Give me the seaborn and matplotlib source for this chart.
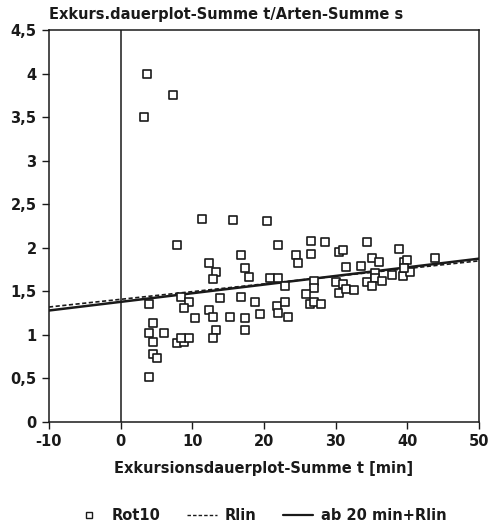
import matplotlib
matplotlib.use("Agg")
import matplotlib.pyplot as plt
from matplotlib.lines import Line2D
from matplotlib.ticker import FuncFormatter
import seaborn as sns
import pandas as pd

sns.set_theme(style="white")
plt.rcParams['font.family'] = ['DejaVu Sans']

# Rot10 scatter data
rot10_t = [3.7, 7.3, 3.3, 11.4, 15.7, 20.4, 7.9, 21.9, 24.4, 24.7, 12.3, 13.3, 12.9,
           16.8, 17.3, 17.9, 20.8, 21.9, 22.9, 3.9, 8.4, 9.5, 8.9, 13.9, 16.8, 18.8,
           21.8, 22.9, 21.9, 23.4, 19.4, 12.3, 12.9, 10.4, 15.2, 17.4, 17.4, 13.3, 12.9,
           4.5, 3.9, 6.0, 4.5, 7.9, 8.9, 9.5, 8.4, 4.5, 5.0, 3.9,
           26.5, 28.5, 34.4, 38.9, 26.5, 30.5, 31.0, 31.4, 33.5, 35.0, 36.0, 39.5, 39.9,
           43.9, 27.0, 27.0, 25.9, 30.0, 31.0, 30.5, 31.4, 32.5, 34.4, 35.5, 35.5, 36.5,
           35.1, 37.9, 39.4, 40.4, 39.6, 26.4, 27.0, 28.0]
rot10_s = [4.0, 3.75, 3.5, 2.33, 2.32, 2.31, 2.03, 2.03, 1.92, 1.82, 1.82, 1.72, 1.64,
           1.92, 1.77, 1.66, 1.65, 1.65, 1.56, 1.35, 1.43, 1.38, 1.31, 1.42, 1.44, 1.38,
           1.33, 1.38, 1.25, 1.20, 1.24, 1.28, 1.20, 1.19, 1.21, 1.19, 1.06, 1.06, 0.96,
           1.14, 1.02, 1.02, 0.92, 0.91, 0.92, 0.97, 0.97, 0.78, 0.73, 0.52,
           2.08, 2.07, 2.07, 1.99, 1.93, 1.95, 1.98, 1.78, 1.79, 1.88, 1.84, 1.84, 1.86,
           1.88, 1.62, 1.54, 1.47, 1.61, 1.58, 1.48, 1.53, 1.51, 1.61, 1.71, 1.65, 1.62,
           1.56, 1.69, 1.68, 1.72, 1.77, 1.35, 1.38, 1.35]

# Regression lines (endpoints)
rlin_t = [-10, 50]
rlin_s = [1.32, 1.85]
ab20_t = [-10, 50]
ab20_s = [1.28, 1.875]

xticks = [-10, 0, 10, 20, 30, 40, 50]
yticks = [0, 0.5, 1, 1.5, 2, 2.5, 3, 3.5, 4, 4.5]

df = pd.DataFrame({"t": rot10_t, "s": rot10_s})
df_rlin = pd.DataFrame({"t": rlin_t, "s": rlin_s})
df_ab20 = pd.DataFrame({"t": ab20_t, "s": ab20_s})

W, H = 498, 529
L, R, T, B = 49, 479, 30, 422
fig = plt.figure(figsize=(W / 100, H / 100), dpi=100)
ax = fig.add_axes([L / W, 1 - B / H, (R - L) / W, (B - T) / H])

ink = "#1a1a1a"
FS = 10.5

sns.lineplot(data=df_rlin, x="t", y="s", ax=ax, color=ink, lw=1.2,
             linestyle=(0, (2.5, 1.5)), zorder=2)
sns.lineplot(data=df_ab20, x="t", y="s", ax=ax, color=ink, lw=1.8, zorder=3)
sns.scatterplot(data=df, x="t", y="s", ax=ax, marker="s", s=34,
                facecolor="white", edgecolor=ink, linewidth=1.2, zorder=4)

ax.axvline(0, color=ink, lw=1.1, zorder=1)

ax.set_xlim(-10, 50)
ax.set_ylim(0, 4.5)
ax.set_xticks(xticks)
ax.set_yticks(yticks)
fmt = FuncFormatter(lambda v, p: (f"{v:g}").replace(".", ","))
ax.xaxis.set_major_formatter(fmt)
ax.yaxis.set_major_formatter(fmt)
ax.tick_params(axis="both", direction="out", length=5, width=1, color=ink,
               labelsize=FS, labelcolor=ink, bottom=True, left=True, pad=4)
for lab in ax.get_xticklabels() + ax.get_yticklabels():
    lab.set_fontweight("bold")
for sp in ax.spines.values():
    sp.set_color(ink)
    sp.set_linewidth(1.1)

ax.set_xlabel("Exkursionsdauerplot-Summe t [min]", fontsize=FS, fontweight="bold",
              color=ink, labelpad=8)
ax.set_ylabel("")
fig.text(L / W, 1 - 15 / H, "Exkurs.dauerplot-Summe t/Arten-Summe s", fontsize=FS,
         fontweight="bold", color=ink, ha="left", va="center")

handles = [
    Line2D([], [], marker="s", linestyle="none", markersize=5, markerfacecolor="white",
           markeredgecolor=ink, markeredgewidth=1.0),
    Line2D([], [], color=ink, lw=1.0, linestyle=(0, (2.5, 1.5))),
    Line2D([], [], color=ink, lw=1.6),
]
fig.legend(handles, ["Rot10", "Rlin", "ab 20 min+Rlin"], loc="center",
           bbox_to_anchor=(260 / W, 1 - 516 / H), ncol=3, frameon=False,
           prop={"weight": "bold", "size": FS}, handlelength=2.1, columnspacing=1.8,
           handletextpad=0.5, labelcolor=ink, borderaxespad=0, borderpad=0)

fig.savefig("out.png", dpi=100, facecolor="white")
